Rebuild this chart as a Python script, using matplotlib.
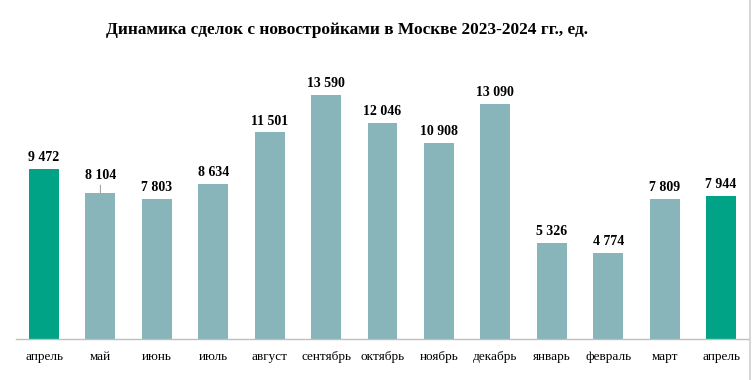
import matplotlib.pyplot as plt
from matplotlib.lines import Line2D

months = ['апрель', 'май', 'июнь', 'июль', 'август', 'сентябрь', 'октябрь',
          'ноябрь', 'декабрь', 'январь', 'февраль', 'март', 'апрель']
deals = [9472, 8104, 7803, 8634, 11501, 13590, 12046, 10908, 13090,
         5326, 4774, 7809, 7944]
highlight = [0, 12]

plt.rcParams['font.family'] = ['Liberation Serif', 'DejaVu Serif']

green = '#00A385'
grey = '#87B5B9'

fig = plt.figure(figsize=(7.53, 3.80), dpi=100)
ax = fig.add_axes([0.021, 0.108, 0.974, 0.734])

x = range(len(months))
colors = [green if i in highlight else grey for i in x]
ax.bar(x, deals, width=0.53, color=colors, zorder=2)

def fmt(v):
    return f'{v:,}'.replace(',', ' ')

for i, v in enumerate(deals):
    if i == 1:
        # label lifted with a leader line
        ax.annotate(fmt(v), xy=(i, v), xytext=(0, 8), textcoords='offset points',
                    ha='center', va='bottom', fontsize=10, fontweight='bold',
                    arrowprops=dict(arrowstyle='-', color='#A6A6A6', lw=0.8,
                                    shrinkA=0, shrinkB=0))
    else:
        ax.annotate(fmt(v), xy=(i, v), xytext=(0, 3.5), textcoords='offset points',
                    ha='center', va='bottom', fontsize=10, fontweight='bold')

ax.set_xlim(-0.5, len(months) - 0.5)
ax.set_ylim(0, 15535)
ax.set_xticks(list(x))
ax.set_xticklabels(months, fontsize=9.5)
ax.tick_params(axis='x', length=0, pad=8.5)
ax.set_yticks([])
for s in ['top', 'right', 'left']:
    ax.spines[s].set_visible(False)
ax.spines['bottom'].set_color('#BFBFBF')
ax.spines['bottom'].set_linewidth(1)

fig.text(0.461, 0.92, 'Динамика сделок с новостройками в Москве 2023-2024 гг., ед.',
         ha='center', va='center', fontsize=12.4, fontweight='bold')

fig.add_artist(Line2D([0.996, 0.996], [0, 1], color='#D0D0D0', lw=1.2))

fig.savefig('out.png', dpi=100)
